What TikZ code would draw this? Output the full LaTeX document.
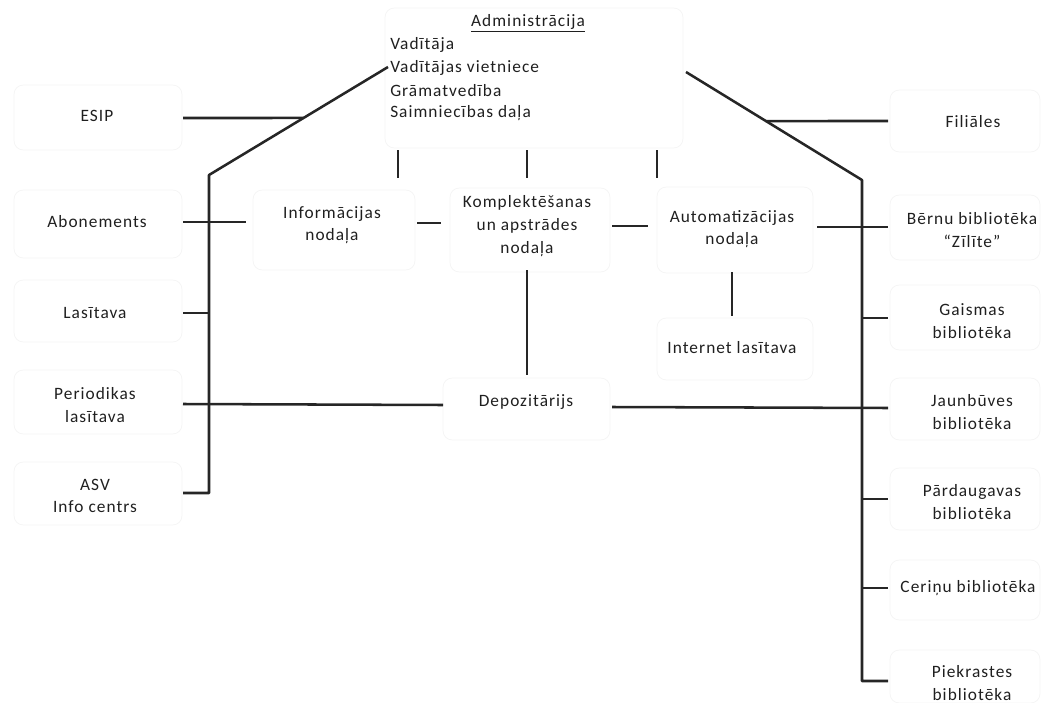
\documentclass[tikz,border=0pt]{standalone}
\usepackage{fontspec}
\setmainfont{Carlito}[LetterSpace=6]
\usetikzlibrary{calc}
\begin{document}
\begin{tikzpicture}[x=0.75pt,y=-0.75pt,
  conn/.style={line width=1.9pt, draw=black!85},
  box/.style={draw=black!4, line width=0.6pt, rounded corners=7pt},
  lbl/.style={font=\fontsize{13}{17}\selectfont, align=center, inner sep=0pt, text=black!88},
]
\useasboundingbox (0,0) rectangle (1043,703);

% faint boxes
\draw[box] (385,8) rectangle (683,148);
\draw[box] (253,190) rectangle (415,270);
\draw[box] (450,188) rectangle (610,272);
\draw[box] (657,187) rectangle (813,273);
\draw[box] (657,318) rectangle (813,380);
\draw[box] (443,378) rectangle (610,440);
\draw[box] (14,85) rectangle (182,150);
\draw[box] (14,190) rectangle (182,258);
\draw[box] (14,280) rectangle (182,342);
\draw[box] (14,370) rectangle (182,434);
\draw[box] (14,462) rectangle (182,525);
\draw[box] (890,90) rectangle (1040,152);
\draw[box] (890,195) rectangle (1040,260);
\draw[box] (890,285) rectangle (1040,350);
\draw[box] (890,378) rectangle (1040,440);
\draw[box] (890,468) rectangle (1040,530);
\draw[box] (890,560) rectangle (1040,620);
\draw[box] (890,650) rectangle (1040,703);

% texts
\node[lbl] (admin) at (528,23) {\underline{Administrācija}};
\node[lbl, anchor=west] (adm1) at (390,45) {Vadītāja};
\node[lbl, anchor=west] (adm2) at (390,68) {Vadītājas vietniece};
\node[lbl, anchor=west] (adm3) at (390,91) {Grāmatvedība};
\node[lbl, anchor=west] (adm4) at (390,113) {Saimniecības daļa};

\node[lbl] (inf) at (332,225) {Informācijas\\nodaļa};
\node[lbl] (kom) at (527,226) {Komplektēšanas\\un apstrādes\\nodaļa};
\node[lbl] (aut) at (732,229) {Automatizācijas\\nodaļa};
\node[lbl] (int) at (732,348) {Internet lasītava};
\node[lbl] (dep) at (526,402) {Depozitārijs};

\node[lbl] (esip) at (97,116) {ESIP};
\node[lbl] (abon) at (97,222) {Abonements};
\node[lbl] (las) at (95,313) {Lasītava};
\node[lbl] (per) at (95,405) {Periodikas\\lasītava};
\node[lbl] (asv) at (95,496) {ASV\\Info centrs};

\node[lbl] (fil) at (973,122) {Filiāles};
\node[lbl] (bern) at (972,230) {Bērnu bibliotēka\\“Zīlīte”};
\node[lbl] (gais) at (972,321) {Gaismas\\bibliotēka};
\node[lbl] (jaun) at (972,412) {Jaunbūves\\bibliotēka};
\node[lbl] (pard) at (972,502) {Pārdaugavas\\bibliotēka};
\node[lbl] (cer) at (968,588) {Ceriņu bibliotēka};
\node[lbl] (piek) at (972,683) {Piekrastes\\bibliotēka};

% coordinates
\coordinate (ltop) at (388,67);
\coordinate (lbend) at (209,175);
\coordinate (lbot) at (209,493);
\coordinate (asvE) at (183,493);
\coordinate (rtop) at (686,72);
\coordinate (rbend) at (862,180);
\coordinate (rbot) at (862,681);
\coordinate (piekW) at (888,681);

% spines
\draw[conn, line join=round] (ltop) -- (lbend) -- (lbot) -- (asvE);
\draw[conn, line join=round] (rtop) -- (rbend) -- (rbot) -- (piekW);

% left stubs
\draw[conn] (183,118) -- ($(ltop)!0.472!(lbend)$);
\draw[conn] (183,222) -- (246,222);
\draw[conn] (183,313) -- (209,313);
\draw[conn] (183,404) -- (443,405);

% right stubs
\draw[conn] ($(rtop)!0.454!(rbend)$) -- (888,121);
\draw[conn] (817,227) -- (888,227);
\draw[conn] (862,318) -- (888,318);
\draw[conn] (612,407) -- (888,408);
\draw[conn] (862,499) -- (888,499);
\draw[conn] (862,588) -- (888,588);

% middle
\draw[conn] (417,223) -- (441,223);
\draw[conn] (612,226) -- (648,226);
\draw[conn] (398,150) -- (398,178);
\draw[conn] (527,150) -- (527,178);
\draw[conn] (657,150) -- (657,178);
\draw[conn] (527,270) -- (527,375);
\draw[conn] (732,272) -- (732,316);
\end{tikzpicture}
\end{document}
